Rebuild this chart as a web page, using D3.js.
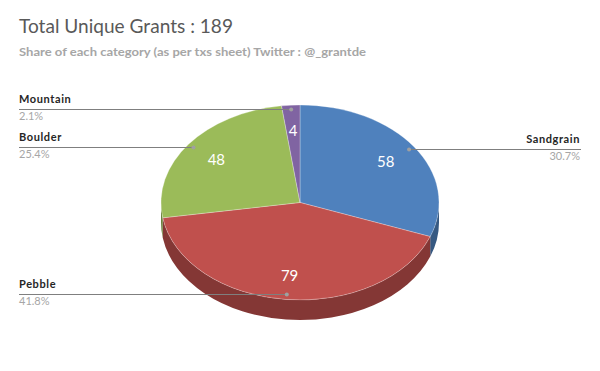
<!DOCTYPE html>
<html><head><meta charset="utf-8">
<script src="https://cdn.jsdelivr.net/npm/d3@7/dist/d3.min.js"></script>
<style>body{margin:0;background:#fff}svg{display:block}</style>
</head><body>
<svg id="c" width="600" height="371"></svg>
<script>
const categories = ["Sandgrain", "Pebble", "Boulder", "Mountain"];
const values = [58, 79, 48, 4];
const percentLabels = ["30.7%", "41.8%", "25.4%", "2.1%"];
const colors = ["#4f81bd", "#c0504d", "#9bbb59", "#8064a2"];
const title = "Total Unique Grants : 189";
const subtitle = "Share of each category (as per txs sheet) Twitter : @_grantde";

const svg = d3.select("#c");
const font = "Lato, 'Open Sans', sans-serif";
const cx = 300, cy = 202.5, rx = 139, ry = 97.5, depth = 20;

svg.append("text").attr("x", 19).attr("y", 33).attr("font-family", font)
  .attr("font-size", 19).attr("fill", "#595959").attr("textLength", 214)
  .attr("lengthAdjust", "spacingAndGlyphs").text(title);
svg.append("text").attr("x", 19).attr("y", 56).attr("font-family", font)
  .attr("font-size", 12).attr("font-weight", "bold").attr("fill", "#a6a6a6")
  .attr("textLength", 347).attr("lengthAdjust", "spacingAndGlyphs").text(subtitle);

const arcs = d3.pie().sort(null).value(d => d).startAngle(0).endAngle(2 * Math.PI)(values);
const pt = (a, f, dy = 0) => [cx + f * rx * Math.sin(a), cy - f * ry * Math.cos(a) + dy];

// side walls
const sides = svg.append("g");
arcs.forEach((d, i) => {
  const a0 = Math.max(d.startAngle, Math.PI / 2), a1 = Math.min(d.endAngle, 3 * Math.PI / 2);
  if (a0 >= a1) return;
  const p0 = pt(a0, 1), p1 = pt(a1, 1), q1 = pt(a1, 1, depth), q0 = pt(a0, 1, depth);
  const path = `M${p0}A${rx},${ry} 0 0 1 ${p1}L${q1}A${rx},${ry} 0 0 0 ${q0}Z`;
  sides.append("path").attr("d", path).attr("fill", d3.color(colors[i]).darker(1.05));
});

// top
const arcGen = d3.arc().innerRadius(0).outerRadius(rx);
svg.append("g").attr("transform", `translate(${cx},${cy}) scale(1,${ry / rx})`)
  .selectAll("path").data(arcs).join("path")
  .attr("d", arcGen).attr("fill", (d, i) => colors[i])
  .attr("stroke", "#ffffff").attr("stroke-opacity", 0.4).attr("stroke-width", 0.7)
  .attr("vector-effect", "non-scaling-stroke");

// value labels
arcs.forEach((d, i) => {
  const m = (d.startAngle + d.endAngle) / 2;
  const p = pt(m, 0.75);
  svg.append("text").attr("x", p[0]).attr("y", p[1]).attr("text-anchor", "middle")
    .attr("dominant-baseline", "central").attr("font-family", font).attr("font-size", 15)
    .attr("fill", "#ffffff").text(values[i]);
});

// leader lines and category labels
const labelPos = {
  Sandgrain: { side: "right", lineY: 149.5 },
  Pebble: { side: "left", lineY: 294.5 },
  Boulder: { side: "left", lineY: 147.5 },
  Mountain: { side: "left", lineY: 109.5 }
};
arcs.forEach((d, i) => {
  const m = (d.startAngle + d.endAngle) / 2;
  const p = pt(m, 0.955);
  const lp = labelPos[categories[i]];
  const xEnd = lp.side === "left" ? 19 : 581;
  svg.append("line").attr("x1", p[0]).attr("y1", lp.lineY).attr("x2", xEnd).attr("y2", lp.lineY)
    .attr("stroke", "#7f7f7f").attr("stroke-width", 1);
  svg.append("circle").attr("cx", p[0]).attr("cy", lp.lineY).attr("r", 2).attr("fill", "#a0a0a0");
  const tx = lp.side === "left" ? 19 : 580;
  const anchor = lp.side === "left" ? "start" : "end";
  svg.append("text").attr("x", tx).attr("y", lp.lineY - 7).attr("text-anchor", anchor)
    .attr("font-family", font).attr("font-size", 11).attr("font-weight", "bold")
    .attr("letter-spacing", 0.6).attr("fill", "#262626").text(categories[i]);
  svg.append("text").attr("x", tx).attr("y", lp.lineY + 10.5).attr("text-anchor", anchor)
    .attr("font-family", font).attr("font-size", 11)
    .attr("fill", "#a6a6a6").text(percentLabels[i]);
});
</script>
</body></html>
